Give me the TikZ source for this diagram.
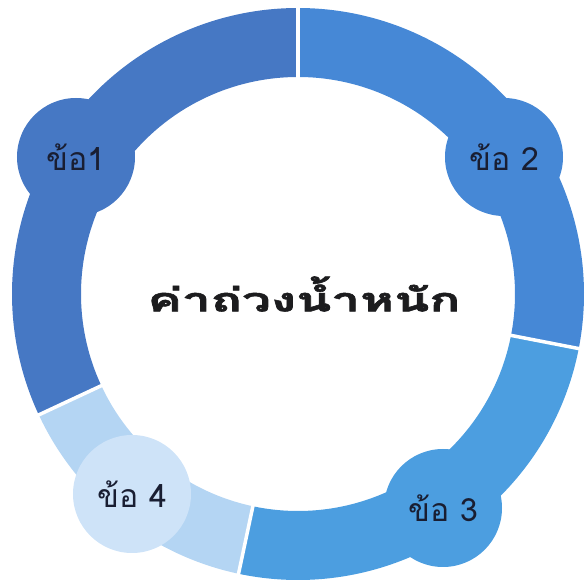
\documentclass[tikz,border=0pt]{standalone}
\usepackage{fontspec}
\newfontfamily\thaifont[Script=Thai]{Loma}
\newfontfamily\thaiheavy[Script=Thai,BoldFeatures={FakeBold=1.6}]{Loma}

\begin{document}
\begin{tikzpicture}[x=1pt,y=1pt]
% Styles
\tikzstyle{ringone}=[fill={rgb,255: red,70; green,120; blue,196}]
\tikzstyle{ringtwo}=[fill={rgb,255: red,70; green,136; blue,214}]
\tikzstyle{ringthree}=[fill={rgb,255: red,76; green,158; blue,224}]
\tikzstyle{ringfour}=[fill={rgb,255: red,180; green,213; blue,243}]
\tikzstyle{gapline}=[draw=white, line width=3.5pt]
\tikzstyle{bubble}=[shape=circle, minimum size=118pt, inner sep=0pt, font=\thaifont\fontsize{32}{34}\selectfont, text={rgb,255: red,25; green,30; blue,50}]
\tikzstyle{title}=[inner sep=0pt, font=\thaiheavy\bfseries\fontsize{44}{48}\selectfont, text={rgb,255: red,28; green,28; blue,30}]

\useasboundingbox (-298,-289) rectangle (289,294);

\coordinate (0) at (0,0);

% ring segments
\fill [style=ringone] (90:286) arc (90:205:286) -- (205:217) arc (205:90:217) -- cycle;
\fill [style=ringtwo] (-11:286) arc (-11:90:286) -- (90:217) arc (90:-11:217) -- cycle;
\fill [style=ringthree] (-102:286) arc (-102:-11:286) -- (-11:217) arc (-11:-102:217) -- cycle;
\fill [style=ringfour] (205:286) arc (205:258:286) -- (258:217) arc (258:205:217) -- cycle;

\draw [style=gapline] (90:212) -- (90:292);
\draw [style=gapline] (-11:212) -- (-11:292);
\draw [style=gapline] (205:212) -- (205:292);
\draw [style=gapline] (258:212) -- (258:292);

\node [style=bubble, fill={rgb,255: red,70; green,120; blue,196}] (1) at (-222,137) {ข้อ1\hspace{12pt}};
\node [style=bubble, fill={rgb,255: red,70; green,136; blue,214}] (2) at (206,137) {ข้อ 2};
\node [style=bubble, fill={rgb,255: red,76; green,158; blue,224}] (3) at (145,-214) {ข้อ 3};
\node [style=bubble, fill={rgb,255: red,206; green,227; blue,248}] (4) at (-166,-200) {ข้อ 4};

\node [style=title] (5) at (6,0) {\scalebox{1.17}[0.75]{ค่าถ่วงน้ำหนัก}};
\end{tikzpicture}
\end{document}
